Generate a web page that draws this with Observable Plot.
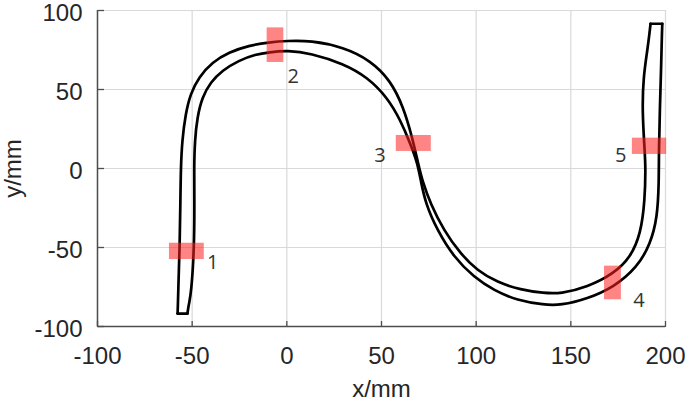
<!DOCTYPE html>
<html><head><meta charset="utf-8">
<script src="https://cdn.jsdelivr.net/npm/d3@7"></script>
<script src="https://cdn.jsdelivr.net/npm/@observablehq/plot@0.6"></script>
<style>body{margin:0;background:#fff} svg{display:block}</style>
</head><body><div id="chart"></div>
<script>
const xTicks = [-100, -50, 0, 50, 100, 150, 200];
const yTicks = [-100, -50, 0, 50, 100];

// edge A: left edge of left leg, outer top arch, inner bottom arch, inner right leg
const edgeA = [
  [-57.7,-91.8],[-57.5,-85.0],[-57.4,-79.0],[-56.6,-50.0],[-56.2,-20.0],[-56.0,0.0],[-55.3,17.7],
  [-53.5,34.6],[-50.9,47.3],[-46.5,57.8],[-39.4,67.3],[-30.6,73.6],[-20.1,77.8],
  [-9.5,79.9],[0.4,80.8],[12.5,81.0],[30.0,76.8],[44.2,68.4],[54.8,55.7],[61.6,38.8],
  [66.2,19.8],[69.3,3.5],[71.6,-8.0],[75.9,-22.3],[82.9,-39.2],[91.7,-54.0],
  [100.6,-64.6],[111.1,-72.0],[123.5,-76.8],[135.8,-78.9],[144.6,-79.3],[158.7,-75.1],
  [172.7,-66.6],[181.6,-56.1],[186.9,-41.3],[189.1,-20.3],[189.5,0.8],[189.0,11.4],
  [187.7,36.7],[188.3,57.8],[190.4,74.7],[191.5,85.0],[192.1,91.6]
];
// edge B: outer right leg, outer bottom arch, inner top arch, right edge of left leg
const edgeB = [
  [198.3,91.6],[198.1,85.0],[197.8,68.4],[197.0,36.7],[196.5,11.4],[196.5,-9.7],[195.7,-30.8],
  [192.1,-47.7],[185.1,-62.5],[172.7,-75.1],[158.7,-82.5],[144.6,-86.6],[135.8,-86.3],
  [121.7,-83.5],[109.4,-77.2],[98.8,-68.8],[88.2,-56.1],[79.5,-39.2],[73.3,-22.3],
  [70.8,-8.0],[69.0,3.5],[65.3,15.6],[60.1,30.4],[53.0,45.1],[42.5,57.8],[30.0,66.3],
  [12.5,73.0],[0.4,74.7],[-9.5,73.6],[-16.5,72.2],[-25.4,68.4],[-34.1,62.0],
  [-40.3,54.6],[-44.7,45.1],[-47.3,32.5],[-48.6,17.7],[-49.0,0.0],[-48.8,-20.0],
  [-48.9,-50.0],[-50.5,-79.1],[-51.8,-86.0],[-52.5,-91.8]
];
const capTop = [[192.1,91.6],[198.3,91.6]];
const capBottom = [[-52.5,-91.8],[-57.7,-91.8]];

const markerNames = ["1", "2", "3", "4", "5"];
const markerX1 = [-62.0, -10.4, 57.8, 167.8, 182.5];
const markerX2 = [-43.6, -1.6, 76.3, 176.7, 200.6];
const markerY1 = [-57.6, 67.1, 10.8, -83.1, 8.9];
const markerY2 = [-47.3, 89.0, 20.9, -61.8, 19.2];
const labelX = [-39.1, 3.4, 49.2, 186.0, 176.3];
const labelY = [-59.7, 58.2, 8.2, -83.5, 8.2];

const markers = markerNames.map((n, i) => ({n, x1: markerX1[i], x2: markerX2[i], y1: markerY1[i], y2: markerY2[i], lx: labelX[i], ly: labelY[i]}));
const segs = [
  ...edgeA.map(p => ({s: "A", x: p[0], y: p[1]})),
  ...edgeB.map(p => ({s: "B", x: p[0], y: p[1]}))
];
const caps = [
  ...capTop.map(p => ({s: "T", x: p[0], y: p[1]})),
  ...capBottom.map(p => ({s: "Bo", x: p[0], y: p[1]}))
];

const font = "Liberation Sans, Arial, sans-serif";
const fmt = d => String(d);
const chart = Plot.plot({
  width: 685, height: 402,
  marginLeft: 97, marginRight: 20, marginTop: 10, marginBottom: 76,
  style: {fontFamily: font, fontSize: "24px", color: "#262626", background: "#fff", overflow: "visible"},
  x: {domain: [-100, 200]},
  y: {domain: [-100, 100]},
  marks: [
    Plot.gridX(xTicks, {stroke: "#d9d9d9", strokeOpacity: 1, strokeWidth: 1.2}),
    Plot.gridY(yTicks, {stroke: "#d9d9d9", strokeOpacity: 1, strokeWidth: 1.2}),
    Plot.line(segs, {x: "x", y: "y", z: "s", curve: "basis", stroke: "#000", strokeWidth: 2.7}),
    Plot.line(caps, {x: "x", y: "y", z: "s", stroke: "#000", strokeWidth: 2.7}),
    Plot.rect(markers, {x1: "x1", x2: "x2", y1: "y1", y2: "y2", fill: "#ff2020", fillOpacity: 0.55}),
    Plot.text(markers, {x: "lx", y: "ly", text: "n", fontFamily: "Open Sans, sans-serif", fontSize: 20, fill: "#333"}),
    Plot.ruleX([-100], {stroke: "#4d4d4d", strokeWidth: 1.5}),
    Plot.ruleY([-100], {stroke: "#4d4d4d", strokeWidth: 1.5}),
    Plot.axisX({ticks: xTicks, anchor: "top", frameAnchor: "bottom", tickSize: 6, text: null, label: null, stroke: "#4d4d4d", strokeWidth: 1.3}),
    Plot.axisY({ticks: yTicks, anchor: "right", frameAnchor: "left", tickSize: 6, text: null, label: null, stroke: "#4d4d4d", strokeWidth: 1.3}),
    Plot.axisX({ticks: xTicks, tickFormat: fmt, tickSize: 0, tickPadding: 20, fontSize: 24, label: "x/mm", labelAnchor: "center", labelArrow: "none", labelOffset: 70, fill: "#262626"}),
    Plot.axisY({ticks: yTicks, tickFormat: fmt, tickSize: 0, tickPadding: 15, fontSize: 24, dy: 3, label: null, fill: "#262626"}),
    Plot.axisY({ticks: [], label: "y/mm", labelAnchor: "center", labelArrow: "none", labelOffset: 94, fontSize: 24, fill: "#262626"})
  ]
});
document.getElementById("chart").appendChild(chart);
</script>
</body></html>
